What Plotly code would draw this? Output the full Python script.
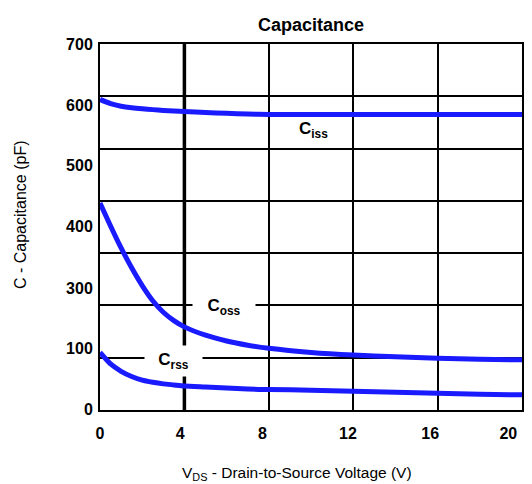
import plotly.graph_objects as go

# ---- data ----
vds = [0, 0.5, 1, 1.5, 2, 2.5, 3, 3.5, 4, 5, 6, 7, 8, 10, 12, 14, 16, 18, 20]
c_iss = [594, 586, 581, 578, 576, 574.5, 573, 572, 571, 569, 567.5, 566, 565, 565, 565, 565, 565, 565, 565]
c_oss = [396, 352, 310, 272, 238, 209, 187, 171, 159, 143, 132, 124, 118, 110, 105, 102, 99, 97, 96]
c_rss = [110, 88, 74, 64, 57, 53, 50, 48, 46, 44, 42, 40, 39, 38, 36, 34, 32, 30, 29]

x_tick_labels = ["0", "4", "8", "12", "16", "20"]
y_tick_labels = ["0", "100", "300", "400", "500", "600", "700"]

# ---- positions / styling ----
x_label_pos = [0, 3.8, 7.7, 11.75, 15.65, 19.35]
y_label_pos = [2, 117, 233, 352, 467, 583, 700]
x_grid = [0, 4, 8, 12, 16, 20]
y_grid = [0, 100, 200, 300, 400, 500, 600, 700]

BLUE = "#1a1aff"
FONT = "Liberation Sans"

fig = go.Figure()
for name, ys in [("Ciss", c_iss), ("Coss", c_oss), ("Crss", c_rss)]:
    fig.add_trace(go.Scatter(x=vds, y=ys, mode="lines", name=name,
                             line=dict(color=BLUE, width=5, shape="spline", smoothing=0.6)))

fig.update_layout(
    width=532, height=484,
    margin=dict(l=100, r=10, t=44, b=74),
    plot_bgcolor="white", paper_bgcolor="white",
    showlegend=False,
    font=dict(family=FONT, color="black"),
    title=dict(text="Capacitance", x=311 / 532, xanchor="center", y=1 - 25 / 484, yanchor="middle",
               font=dict(family=FONT, size=18, weight="bold", color="black")),
)

fig.update_xaxes(
    range=[0, 20], tickmode="array", tickvals=x_label_pos, ticktext=x_tick_labels,
    showgrid=False, zeroline=False, showline=True, mirror=True, linecolor="black", linewidth=2,
    ticks="", ticklabelstandoff=8, automargin=False,
    tickfont=dict(family=FONT, size=16, weight="bold", color="black"),
    minor=dict(tickmode="array", tickvals=x_grid, showgrid=True, gridcolor="black", gridwidth=2, ticks=""),
)
fig.update_yaxes(
    range=[0, 700], tickmode="array", tickvals=y_label_pos, ticktext=y_tick_labels,
    showgrid=False, zeroline=False, showline=True, mirror=True, linecolor="black", linewidth=2,
    ticks="", ticklabelstandoff=2, automargin=False,
    tickfont=dict(family=FONT, size=16, weight="bold", color="black"),
    minor=dict(tickmode="array", tickvals=y_grid, showgrid=True, gridcolor="black", gridwidth=2, ticks=""),
)

# axis titles (placed as in the reference)
fig.add_annotation(x=(297 - 100) / 422, y=0, xref="paper", yref="paper", yshift=-63,
                   text="V<sub>DS</sub> - Drain-to-Source Voltage (V)", showarrow=False,
                   xanchor="center", yanchor="middle",
                   font=dict(family=FONT, size=15.5, color="black"))
fig.add_annotation(x=0, y=(410 - 215) / 366, xref="paper", yref="paper", xshift=-80,
                   text="C - Capacitance (pF)", textangle=-90, showarrow=False,
                   xanchor="center", yanchor="middle",
                   font=dict(family=FONT, size=16, color="black"))

# heavier grid line at Vds = 4 V
fig.add_shape(type="line", x0=4, x1=4, y0=0, y1=1, xref="x", yref="paper",
              line=dict(color="black", width=3.5), layer="between")

lab_font = dict(family=FONT, size=17, weight="bold", color="black")
fig.add_annotation(x=10.14, y=535, xref="x", yref="y", text="C<sub>iss</sub>",
                   showarrow=False, font=lab_font)
fig.add_annotation(x=5.9, y=197, xref="x", yref="y", text="C<sub>oss</sub>",
                   showarrow=False, font=lab_font, bgcolor="white", width=60, height=22)
fig.add_annotation(x=3.47, y=94, xref="x", yref="y", text="C<sub>rss</sub>",
                   showarrow=False, font=lab_font, bgcolor="white", width=55, height=28)

fig.write_html("out.html", config={"displayModeBar": False},
               post_script="document.body.style.margin='0';")
